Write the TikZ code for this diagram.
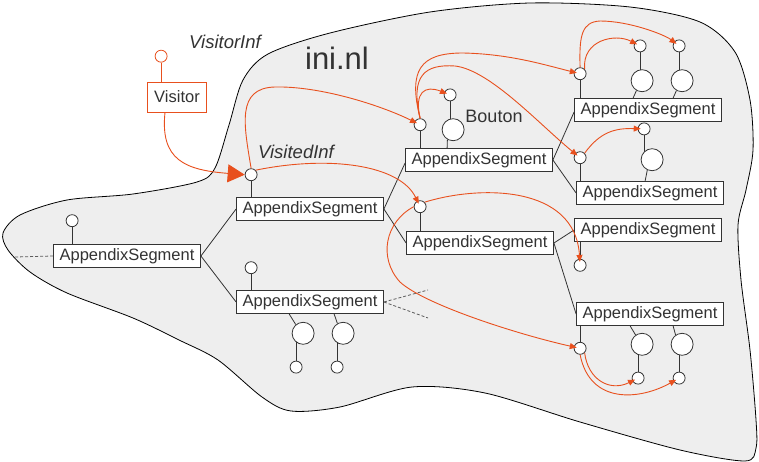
\documentclass[tikz,border=0pt]{standalone}
\usepackage{fontspec}
\setmainfont{Liberation Sans}
\usetikzlibrary{arrows.meta,positioning,backgrounds,calc}
\definecolor{VisOrange}{HTML}{E8501E}
\definecolor{VisInk}{HTML}{333333}
\definecolor{VisBlob}{HTML}{EEEEEE}
\tikzset{
  segbox/.style={draw=VisInk,fill=white,line width=0.8pt,minimum width=147pt,
    minimum height=23pt,inner sep=0pt,font=\fontsize{16.5}{18}\selectfont,text=VisInk},
  visbox/.style={segbox,draw=VisOrange,minimum width=59pt,minimum height=30pt},
  port/.style={circle,draw=VisInk,fill=white,line width=0.8pt,minimum size=12pt,inner sep=0pt},
  bouton/.style={port,minimum size=22pt},
  visport/.style={port,draw=VisOrange},
  link/.style={draw=VisInk,line width=0.8pt},
  cut/.style={draw=VisInk!80,line width=0.8pt,densely dashed},
  visit/.style={draw=VisOrange,line width=0.9pt,-{Triangle[length=7pt,width=6pt]},shorten >=-3pt},
  visitbig/.style={draw=VisOrange,line width=0.9pt,-{Triangle[length=17pt,width=18pt]}},
  tag/.style={font=\fontsize{18.5}{20}\selectfont\itshape,text=VisInk}
}
\begin{document}
\begin{tikzpicture}[x=1pt,y=-1pt]
  \useasboundingbox (0,0) rectangle (759,462);
  % segments
  \node[segbox] (segA) at (127,256) {AppendixSegment};
  \node[segbox] (segB) at (310,209) {AppendixSegment};
  \node[segbox] (segC) at (310,302) {AppendixSegment};
  \node[segbox] (segD) at (479,160) {AppendixSegment};
  \node[segbox] (segE) at (480,243) {AppendixSegment};
  \node[segbox] (segF) at (648,110) {AppendixSegment};
  \node[segbox] (segG) at (650,193) {AppendixSegment};
  \node[segbox] (segH) at (648,230) {AppendixSegment};
  \node[segbox] (segI) at (650,314) {AppendixSegment};
  \node[visbox] (visitor) at (177,97) {Visitor};
  % ports
  \node[port,above=17pt of segA.north west,xshift=19pt] (pA) {};
  \node[port,above=16pt of segB.north west,xshift=15pt] (pB) {};
  \node[port,above=16pt of segC.north west,xshift=15pt] (pC) {};
  \node[port,above=17pt of segD.north west,xshift=15pt] (pD) {};
  \node[port,above=18pt of segE.north west,xshift=14pt] (pE) {};
  \node[port,above=18pt of segF.north west,xshift=6pt] (pF) {};
  \node[port,above=17pt of segG.north west,xshift=4pt] (pG) {};
  \node[port,below=17pt of segH.south west,xshift=6pt] (pH) {};
  \node[port,below=16pt of segI.south west,xshift=4pt] (pI) {};
  \node[visport,above=19pt of visitor.north west,xshift=14pt] (pV) {};
  % boutons
  \node[bouton,below=8pt of segC.south west,xshift=67pt] (bigC1) {};
  \node[bouton,below=8pt of segC.south west,xshift=107pt] (bigC2) {};
  \node[port,below=16pt of bigC1,xshift=-7pt] (tipC1) {};
  \node[port,below=16pt of bigC2,xshift=-6pt] (tipC2) {};
  \node[bouton,above=7pt of segD.north west,xshift=48pt] (bigD) {};
  \node[port,above=17pt of bigD,xshift=-3pt] (tipD) {};
  \node[bouton,above=6pt of segF.north west,xshift=68pt] (bigF1) {};
  \node[bouton,above=6pt of segF.north west,xshift=108pt] (bigF2) {};
  \node[port,above=17pt of bigF1,xshift=-2pt] (tipF1) {};
  \node[port,above=17pt of bigF2,xshift=-3pt] (tipF2) {};
  \node[bouton,above=10pt of segG.north west,xshift=76pt] (bigG) {};
  \node[port,above=13pt of bigG,xshift=-8pt] (tipG) {};
  \node[bouton,below=7pt of segI.south west,xshift=66pt] (bigI1) {};
  \node[bouton,below=7pt of segI.south west,xshift=106pt] (bigI2) {};
  \node[port,below=16pt of bigI1,xshift=-4pt] (tipI1) {};
  \node[port,below=16pt of bigI2,xshift=-3pt] (tipI2) {};
  % labels
  \node[tag] (visitorinf) at (225,42) {VisitorInf};
  \node[tag] (visitedinf) at (296,152) {VisitedInf};
  \node[font=\fontsize{31}{34}\selectfont,text=VisInk] (host) at (337,58) {ini.nl};
  \node[font=\fontsize{18}{20}\selectfont,text=VisInk] (boutonlabel) at (494,116) {Bouton};
  \coordinate (cutA) at (15,257);
  \coordinate (cutC1) at (428,290);
  \coordinate (cutC2) at (428,318);
  \begin{scope}[on background layer]
    \draw[line width=0.8pt,fill=VisBlob] plot[smooth cycle] coordinates {
      (3,233) (20,215) (67,200) (133,194) (197,182) (215,168) (229,125) (243,80)
      (268,54) (330,33) (430,12) (530,3) (630,7) (700,22) (735,52) (750,100)
      (753,150) (746,190) (738,225) (741,280) (750,350) (756,420) (756,448)
      (745,461) (680,450) (580,422) (485,393) (412,387) (340,407) (291,411)
      (262,397) (218,360) (179,340) (133,318) (67,293) (30,272) (8,250)};
    \draw[link] (segA.east) -- (segB.west);
    \draw[link] (segA.east) -- (segC.west);
    \draw[link] (segB.east) -- ([yshift=-3pt]segD.west);
    \draw[link] (segB.east) -- (segE.west);
    \draw[link] (segD.east) -- ([yshift=-2pt]segF.west);
    \draw[link] (segD.east) -- (segG.west);
    \draw[link] (segE.east) -- (segH.west);
    \draw[link] (segE.east) -- (segI.west);
    \draw[cut] (segA.west) -- (cutA);
    \draw[cut] (segC.east) -- (cutC1);
    \draw[cut] (segC.east) -- (cutC2);
    \foreach \p/\s in {pA/segA,pB/segB,pC/segC,pD/segD,pE/segE,pF/segF,pG/segG}
      \draw[link] (\p) -- (\p |- \s.north);
    \foreach \p/\s in {pH/segH,pI/segI}
      \draw[link] (\p) -- (\p |- \s.south);
    \draw[draw=VisOrange,line width=0.8pt] (pV) -- (pV |- visitor.north);
    \foreach \t/\b in {tipC1/bigC1,tipC2/bigC2,tipD/bigD,tipF1/bigF1,tipF2/bigF2,
      tipG/bigG,tipI1/bigI1,tipI2/bigI2}
      \draw[link] (\t) -- (\t |- \b.center);
    \draw[link] ([xshift=53pt]segC.south west) -- (bigC1.130);
    \draw[link] ([xshift=98pt]segC.south west) -- (bigC2.120);
    \draw[link] ([xshift=42pt]segD.north west) -- (bigD.240);
    \draw[link] ([xshift=59pt]segF.north west) -- (bigF1.240);
    \draw[link] ([xshift=99pt]segF.north west) -- (bigF2.240);
    \draw[link] ([xshift=69pt]segG.north west) -- (bigG.245);
    \draw[link] ([xshift=54pt]segI.south west) -- (bigI1.125);
    \draw[link] ([xshift=97pt]segI.south west) -- (bigI2.125);
  \end{scope}
  % visits
  \draw[visitbig] ([xshift=-12pt]visitor.south) .. controls (160,160) and (185,170) .. (pB.west);
  \draw[visit] (pB.north) .. controls (244,125) and (236,88) .. (275,87)
    .. controls (320,86) and (380,105) .. (pD);
  \draw[visit] (pB.north east) .. controls (330,155) and (400,165) .. (pE);
  \draw[visit] (pD.north) .. controls (408,70) and (420,53) .. (463,53)
    .. controls (510,54) and (545,65) .. (pF);
  \draw[visit] (pD.north) .. controls (414,92) and (425,85) .. (tipD);
  \draw[visit] (pD.north) .. controls (410,75) and (425,64) .. (455,66)
    .. controls (490,70) and (540,125) .. (pG);
  \draw[visit] (pF.north east) .. controls (582,40) and (615,33) .. (tipF1);
  \draw[visit] (pF.north) .. controls (579,35) and (582,22) .. (600,21)
    .. controls (630,21) and (665,35) .. (tipF2);
  \draw[visit] (pG.north east) .. controls (600,132) and (615,128) .. (tipG);
  \draw[visit] (pE.north east) .. controls (480,185) and (575,185) .. (pH);
  \draw[visit] (pE.west) .. controls (385,222) and (378,258) .. (400,282)
    .. controls (425,305) and (520,335) .. (pI);
  \draw[visit] (pI.south east) .. controls (588,380) and (610,392) .. (tipI1);
  \draw[visit] (pI.south) .. controls (590,405) and (640,400) .. (tipI2);
\end{tikzpicture}
\end{document}
